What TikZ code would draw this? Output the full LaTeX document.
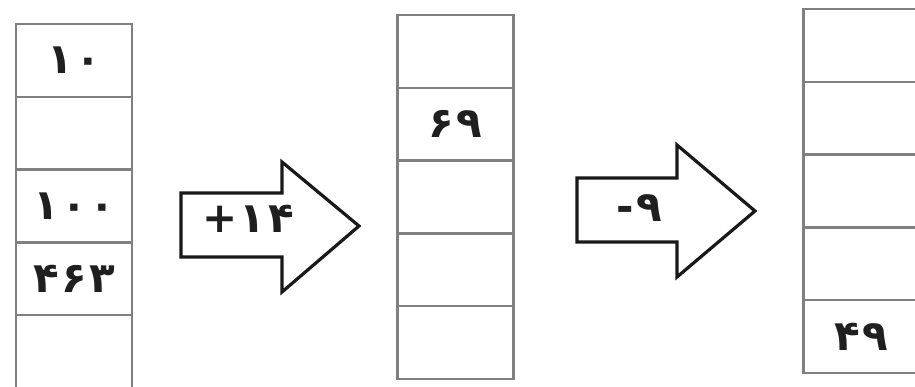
\documentclass[tikz,border=0pt]{standalone}
\usepackage{fontspec}
\newfontfamily\fa{DejaVu Sans Bold}[LetterSpace=6]
\begin{document}
\begin{tikzpicture}[x=1pt,y=-1pt,
  cell/.style={draw=black!50,line width=2.4pt,rectangle,inner sep=0pt,outer sep=0pt,
    minimum width=116pt,minimum height=72.8pt,font=\fa\fontsize{42}{42}\selectfont,text=black!88},
  bigarrow/.style={draw=black!90,line width=3.2pt,fill=white,line join=miter},
  lbl/.style={inner sep=0pt,font=\fa\fontsize{42}{42}\selectfont,text=black!88}]
\useasboundingbox (0,0) rectangle (915,386);
\fill[white] (0,0) rectangle (915,386);
% column 1
\node[cell] (a1) at (74,60.4) {۱۰};
\node[cell] (a2) at (74,133.2) {};
\node[cell] (a3) at (74,206) {۱۰۰};
\node[cell] (a4) at (74,278.8) {۴۶۳};
\node[cell] (a5) at (74,351.6) {};
% column 2
\node[cell] (b1) at (455.5,51.4) {};
\node[cell] (b2) at (455.5,124.2) {۶۹};
\node[cell] (b3) at (455.5,197) {};
\node[cell] (b4) at (455.5,269.8) {};
\node[cell] (b5) at (455.5,342.6) {};
% column 3
\node[cell] (c1) at (861.5,45.4) {};
\node[cell] (c2) at (861.5,118.2) {};
\node[cell] (c3) at (861.5,191) {};
\node[cell] (c4) at (861.5,263.8) {};
\node[cell] (c5) at (861.5,336.6) {۴۹};
% arrows
\draw[bigarrow] (181,193) -- (282,193) -- (282,162) -- (359,226) -- (282,292) -- (282,257) -- (181,257) -- cycle;
\node[lbl] (p1) at (248,219) {+۱۴};
\draw[bigarrow] (577,178) -- (677,178) -- (677,145) -- (755,211) -- (677,277) -- (677,242) -- (577,242) -- cycle;
\node[lbl] (p2) at (639,208) {-۹};
\end{tikzpicture}
\end{document}
